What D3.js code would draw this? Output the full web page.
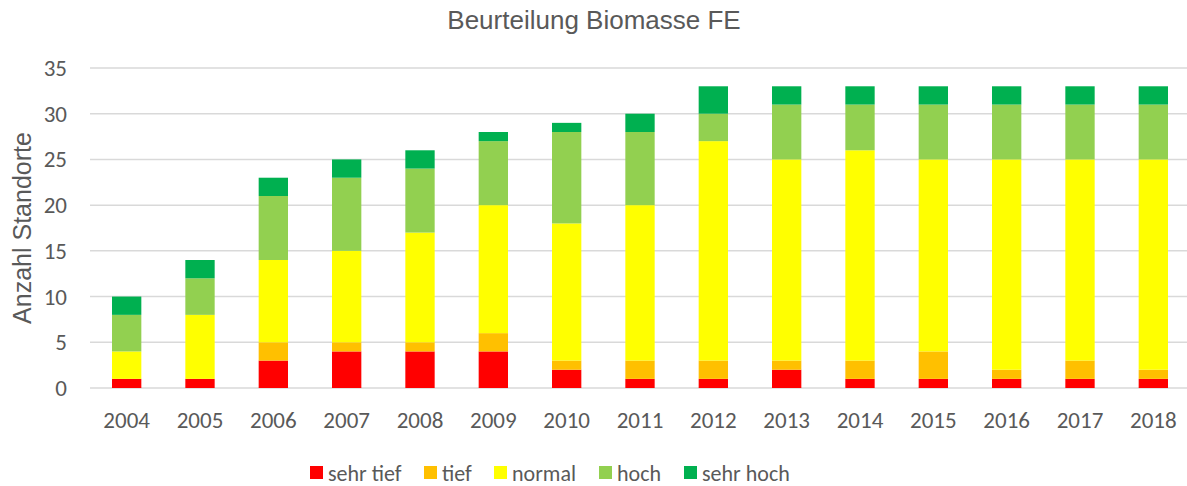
<!DOCTYPE html>
<html>
<head>
<meta charset="utf-8">
<script src="https://cdn.jsdelivr.net/npm/d3@7"></script>
<style>
  body { margin: 0; background: #fff; }
  svg { font-family: Carlito, Lato, "Open Sans", sans-serif; }
  .arial { font-family: "Liberation Sans", Arial, sans-serif; }
</style>
</head>
<body>
<div id="chart"></div>
<script>
// Data
var years = ["2004","2005","2006","2007","2008","2009","2010","2011","2012","2013","2014","2015","2016","2017","2018"];
var seriesNames = ["sehr tief","tief","normal","hoch","sehr hoch"];
var seriesColors = ["#ff0000","#ffc000","#ffff00","#92d050","#00b050"];
var sehrTief = [1,1,3,4,4,4,2,1,1,2,1,1,1,1,1];
var tief     = [0,0,2,1,1,2,1,2,2,1,2,3,1,2,1];
var normal   = [3,7,9,10,12,14,15,17,24,22,23,21,23,22,23];
var hoch     = [4,4,7,8,7,7,10,8,3,6,5,6,6,6,6];
var sehrHoch = [2,2,2,2,2,1,1,2,3,2,2,2,2,2,2];
var yTicks = [0,5,10,15,20,25,30,35];

var width = 1187, height = 486;
var margin = {top: 68, right: -3, bottom: 98, left: 90};

var rows = years.map(function(y, i) {
    return {year: y, "sehr tief": sehrTief[i], "tief": tief[i], "normal": normal[i], "hoch": hoch[i], "sehr hoch": sehrHoch[i]};
});
var stacked = d3.stack().keys(seriesNames)(rows);

var svg = d3.select("#chart").append("svg")
    .attr("width", width)
    .attr("height", height);

var x = d3.scaleBand()
    .domain(years)
    .range([margin.left, width - margin.right])
    .paddingInner(0.6)
    .paddingOuter(0.3);

var y = d3.scaleLinear()
    .domain([0, 35])
    .range([height - margin.bottom, margin.top]);

// gridlines
svg.append("g")
    .selectAll("line")
    .data(yTicks)
    .enter()
    .append("line")
    .attr("x1", margin.left)
    .attr("x2", width)
    .attr("y1", d => y(d))
    .attr("y2", d => y(d))
    .attr("stroke", "#d9d9d9")
    .attr("stroke-width", 1.5);

// bars
svg.append("g")
    .selectAll("g")
    .data(stacked)
    .enter()
    .append("g")
    .attr("fill", (d, i) => seriesColors[i])
    .selectAll("rect")
    .data(d => d)
    .enter()
    .append("rect")
    .attr("x", d => x(d.data.year))
    .attr("width", x.bandwidth())
    .attr("y", d => y(d[1]))
    .attr("height", d => y(d[0]) - y(d[1]));

// y tick labels
svg.append("g")
    .selectAll("text")
    .data(yTicks)
    .enter()
    .append("text")
    .attr("x", 67)
    .attr("y", d => y(d))
    .attr("dy", "0.35em")
    .attr("text-anchor", "end")
    .attr("fill", "#595959")
    .style("font-size", "23px")
    .text(d => d);

// x tick labels
svg.append("g")
    .selectAll("text")
    .data(years)
    .enter()
    .append("text")
    .attr("x", d => x(d) + x.bandwidth() / 2)
    .attr("y", 420)
    .attr("dy", "0.35em")
    .attr("text-anchor", "middle")
    .attr("fill", "#595959")
    .style("font-size", "23px")
    .text(d => d);

// title
svg.append("text")
    .attr("class", "arial")
    .attr("x", 594)
    .attr("y", 20)
    .attr("dy", "0.35em")
    .attr("text-anchor", "middle")
    .attr("fill", "#595959")
    .style("font-size", "26px")
    .text("Beurteilung Biomasse FE");

// y axis title
svg.append("text")
    .attr("class", "arial")
    .attr("transform", "translate(22," + y(17.5) + ") rotate(-90)")
    .attr("dy", "0.35em")
    .attr("text-anchor", "middle")
    .attr("fill", "#595959")
    .style("font-size", "25px")
    .text("Anzahl Standorte");

// legend
var legendX = [310, 424, 494, 599, 684];
var legend = svg.append("g")
    .selectAll("g")
    .data(seriesNames)
    .enter()
    .append("g")
    .attr("transform", (d, i) => "translate(" + legendX[i] + ",473)");

legend.append("rect")
    .attr("x", 0)
    .attr("y", -7)
    .attr("width", 13)
    .attr("height", 13)
    .attr("fill", (d, i) => seriesColors[i]);

legend.append("text")
    .attr("x", 18)
    .attr("y", 0)
    .attr("dy", "0.35em")
    .attr("fill", "#595959")
    .style("font-size", "22px")
    .text(d => d);
</script>
</body>
</html>
